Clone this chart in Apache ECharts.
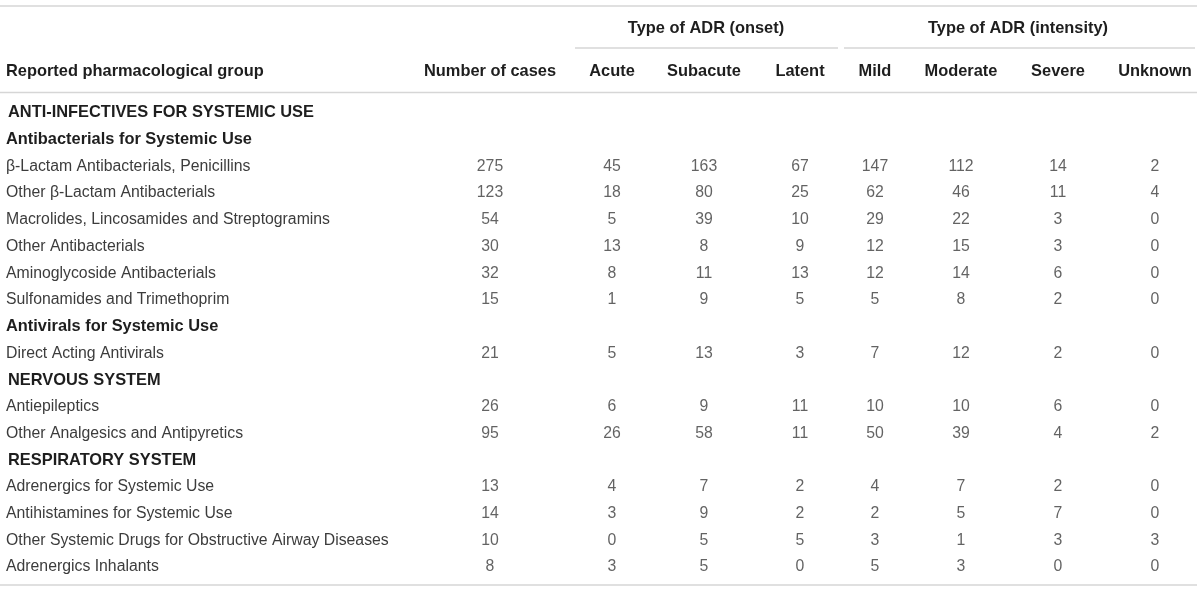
<!DOCTYPE html>
<html>
<head>
<meta charset="utf-8">
<script src="https://cdn.jsdelivr.net/npm/echarts@6/dist/echarts.min.js"></script>
<style>
  html, body { margin: 0; padding: 0; background: #fff; }
  #table { width: 1200px; height: 592px; }
</style>
</head>
<body>
<div id="table"></div>
<script>
// rows of the table, top to bottom (h1 = system, h2 = sub group, d = drug row)
var rowNames = [
  'ANTI-INFECTIVES FOR SYSTEMIC USE',
  'Antibacterials for Systemic Use',
  'β-Lactam Antibacterials, Penicillins',
  'Other β-Lactam Antibacterials',
  'Macrolides, Lincosamides and Streptogramins',
  'Other Antibacterials',
  'Aminoglycoside Antibacterials',
  'Sulfonamides and Trimethoprim',
  'Antivirals for Systemic Use',
  'Direct Acting Antivirals',
  'NERVOUS SYSTEM',
  'Antiepileptics',
  'Other Analgesics and Antipyretics',
  'RESPIRATORY SYSTEM',
  'Adrenergics for Systemic Use',
  'Antihistamines for Systemic Use',
  'Other Systemic Drugs for Obstructive Airway Diseases',
  'Adrenergics Inhalants'
];
var rowLevel = ['h1','h2','d','d','d','d','d','d','h2','d','h1','d','d','h1','d','d','d','d'];

var columns = ['Number of cases', 'Acute', 'Subacute', 'Latent', 'Mild', 'Moderate', 'Severe', 'Unknown'];

// values for the drug rows only, in order
var cases    = [275, 123, 54, 30, 32, 15, 21, 26, 95, 13, 14, 10, 8];
var acute    = [45, 18, 5, 13, 8, 1, 5, 6, 26, 4, 3, 0, 3];
var subacute = [163, 80, 39, 8, 11, 9, 13, 9, 58, 7, 9, 5, 5];
var latent   = [67, 25, 10, 9, 13, 5, 3, 11, 11, 2, 2, 5, 0];
var mild     = [147, 62, 29, 12, 12, 5, 7, 10, 50, 4, 2, 3, 5];
var moderate = [112, 46, 22, 15, 14, 8, 12, 10, 39, 7, 5, 1, 3];
var severe   = [14, 11, 3, 3, 6, 2, 2, 6, 4, 2, 7, 3, 0];
var unknown  = [2, 4, 0, 0, 0, 0, 0, 0, 2, 0, 0, 3, 0];

var values = [cases, acute, subacute, latent, mild, moderate, severe, unknown];

// layout: centre of each column on a 0..1200 x scale
var colX = [490, 612, 704, 800, 875, 961, 1058, 1155];

var font = '"Liberation Sans", Arial, sans-serif';
var lineColor = '#d6d6d6';
var boldSize = 16.4;
var textSize = 15.8;

var drugRows = [];
rowNames.forEach(function (n, i) { if (rowLevel[i] === 'd') drugRows.push(i); });

var series = values.map(function (col, c) {
  return {
    type: 'scatter',
    name: columns[c],
    symbolSize: 0,
    silent: true,
    data: col.map(function (v, k) { return [colX[c], drugRows[k], v]; }),
    label: {
      show: true,
      position: 'inside',
      formatter: function (p) { return p.value[2]; },
      fontFamily: font,
      fontSize: textSize,
      color: '#3c3c3c'
    }
  };
});

function hText(txt, x, y, align) {
  return {
    type: 'text', x: x, y: y,
    style: {
      text: txt, font: 'bold ' + boldSize + 'px ' + font, fill: '#1e1e1e',
      align: align || 'center', verticalAlign: 'middle'
    }
  };
}
function hLine(x1, x2, y) {
  return { type: 'line', shape: { x1: x1, y1: y, x2: x2, y2: y }, style: { stroke: lineColor, lineWidth: 1.5 } };
}

var graphics = [
  hLine(0, 1197, 6),
  hLine(575, 838, 48),
  hLine(844, 1195, 48),
  hLine(0, 1197, 92.5),
  hLine(0, 1197, 585),
  hText('Type of ADR (onset)', 706, 28),
  hText('Type of ADR (intensity)', 1018, 28),
  hText('Reported pharmacological group', 6, 71, 'left')
];
columns.forEach(function (c, i) { graphics.push(hText(c, colX[i], 71)); });

var chart = echarts.init(document.getElementById('table'));
chart.setOption({
  animation: false,
  grid: { left: 0, right: 0, top: 99.6, bottom: 11.6 },
  xAxis: { type: 'value', min: 0, max: 1200, show: false },
  yAxis: {
    type: 'category',
    inverse: true,
    data: rowNames,
    axisLine: { show: false },
    axisTick: { show: false },
    splitLine: { show: false },
    axisLabel: {
      inside: true,
      margin: 6,
      formatter: function (v, i) { return '{' + rowLevel[i] + '|' + v + '}'; },
      rich: {
        h1: { fontFamily: font, fontSize: boldSize, fontWeight: 'bold', color: '#1e1e1e', padding: [0, 0, 0, 2] },
        h2: { fontFamily: font, fontSize: boldSize, fontWeight: 'bold', color: '#1e1e1e' },
        d: { fontFamily: font, fontSize: textSize, color: '#3c3c3c' }
      }
    }
  },
  graphic: graphics,
  series: series
});
</script>
</body>
</html>
